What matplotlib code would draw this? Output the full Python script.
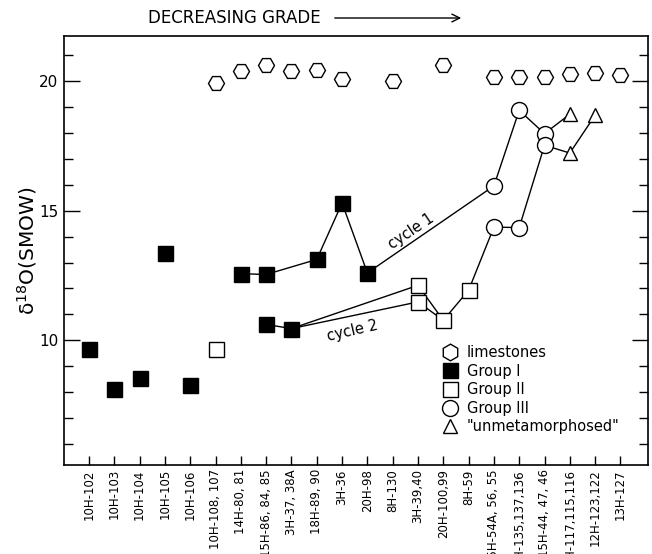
import matplotlib
matplotlib.use("Agg")
import matplotlib.pyplot as plt
from matplotlib.lines import Line2D
from matplotlib.patches import FancyArrowPatch

# sample order along the traverse, highest grade on the left
SAMPLES = [
    "10H-102", "10H-103", "10H-104", "10H-105", "10H-106", "10H-108, 107",
    "14H-80, 81", "15H-86, 84, 85", "3H-37, 38A", "18H-89, 90", "3H-36",
    "20H-98", "8H-130", "3H-39,40", "20H-100,99", "8H-59",
    "15H-54A, 56, 55", "11H-135,137,136", "15H-44, 47, 46",
    "11H-117,115,116", "12H-123,122", "13H-127",
]

# delta 18O (SMOW) per sample group
LIME_SAMPLES = ["10H-108, 107", "14H-80, 81", "15H-86, 84, 85", "3H-37, 38A",
                "18H-89, 90", "3H-36", "8H-130", "20H-100,99", "15H-54A, 56, 55",
                "11H-135,137,136", "15H-44, 47, 46", "11H-117,115,116",
                "12H-123,122", "13H-127"]
LIME_D18O = [19.92, 20.4, 20.62, 20.4, 20.45, 20.08, 20.03, 20.62, 20.15,
             20.18, 20.18, 20.3, 20.32, 20.25]

G1_SAMPLES = ["10H-102", "10H-103", "10H-104", "10H-105", "10H-106", "14H-80, 81",
              "15H-86, 84, 85", "15H-86, 84, 85", "3H-37, 38A", "18H-89, 90",
              "3H-36", "20H-98"]
G1_D18O = [9.68, 8.13, 8.56, 13.37, 8.29, 12.57, 12.54, 10.61, 10.45, 13.12, 15.3, 12.6]

G2_SAMPLES = ["10H-108, 107", "3H-39,40", "3H-39,40", "20H-100,99", "8H-59"]
G2_D18O = [9.68, 12.12, 11.48, 10.77, 11.93]

G3_SAMPLES = ["15H-54A, 56, 55", "15H-54A, 56, 55", "11H-135,137,136",
              "11H-135,137,136", "15H-44, 47, 46", "15H-44, 47, 46"]
G3_D18O = [15.96, 14.37, 18.88, 14.35, 17.98, 17.53]

UNMET_SAMPLES = ["11H-117,115,116", "11H-117,115,116", "12H-123,122"]
UNMET_D18O = [18.73, 17.23, 18.69]

# metamorphic cycles traced through the samples
CYCLE1_SAMPLES = ["14H-80, 81", "15H-86, 84, 85", "18H-89, 90", "3H-36", "20H-98",
                  "15H-54A, 56, 55", "11H-135,137,136", "15H-44, 47, 46",
                  "11H-117,115,116"]
CYCLE1_D18O = [12.57, 12.54, 13.12, 15.3, 12.6, 15.96, 18.88, 17.98, 18.73]

CYCLE2_SAMPLES = ["15H-86, 84, 85", "3H-37, 38A", "3H-39,40", "20H-100,99", "8H-59",
                  "15H-54A, 56, 55", "11H-135,137,136", "15H-44, 47, 46",
                  "11H-117,115,116", "12H-123,122"]
CYCLE2_D18O = [10.61, 10.45, 12.12, 10.77, 11.93, 14.37, 14.35, 17.53, 17.23, 18.69]

CYCLE2_BRANCH_SAMPLES = ["3H-37, 38A", "3H-39,40", "20H-100,99"]
CYCLE2_BRANCH_D18O = [10.45, 11.48, 10.77]


def pos(names):
    return [SAMPLES.index(n) for n in names]


fig = plt.figure(figsize=(6.52, 5.54), dpi=100)
ax = fig.add_axes([0.0989, 0.1606, 0.8942, 0.7744])

line_kw = dict(color="black", linewidth=1.0, zorder=1)
ax.plot(pos(CYCLE1_SAMPLES), CYCLE1_D18O, **line_kw)
ax.plot(pos(CYCLE2_SAMPLES), CYCLE2_D18O, **line_kw)
ax.plot(pos(CYCLE2_BRANCH_SAMPLES), CYCLE2_BRANCH_D18O, **line_kw)

mk = dict(linestyle="none", markeredgecolor="black", markeredgewidth=1.0, zorder=3)
ax.plot(pos(LIME_SAMPLES), LIME_D18O, marker="H", markersize=11.5,
        markerfacecolor="white", **mk)
ax.plot(pos(G1_SAMPLES), G1_D18O, marker="s", markersize=10.8,
        markerfacecolor="black", **mk)
ax.plot(pos(G2_SAMPLES), G2_D18O, marker="s", markersize=10.8,
        markerfacecolor="white", **mk)
ax.plot(pos(G3_SAMPLES), G3_D18O, marker="o", markersize=11.5,
        markerfacecolor="white", **mk)
ax.plot(pos(UNMET_SAMPLES), UNMET_D18O, marker="^", markersize=10,
        markerfacecolor="white", **mk)

ax.text(12.75, 14.19, "cycle 1", rotation=34, ha="center", va="center", fontsize=10.5)
ax.text(10.43, 10.37, "cycle 2", rotation=13, ha="center", va="center", fontsize=10.5)

ax.set_xlim(-0.97, 22.07)
ax.set_ylim(5.18, 21.75)
ax.set_xticks(range(len(SAMPLES)))
ax.set_xticklabels(SAMPLES, rotation=90, fontsize=8.5, va="top")
ax.set_yticks([10, 15, 20])
ax.set_yticks(range(6, 22), minor=True)
ax.tick_params(axis="x", direction="in", length=6.5, width=1.0, pad=3)
ax.tick_params(axis="y", which="major", direction="in", length=11.5, width=1.0,
               right=True, labelsize=11, pad=4.5)
ax.tick_params(axis="y", which="minor", direction="in", length=6.5, width=1.0, right=True)
for sp in ax.spines.values():
    sp.set_linewidth(1.2)

ax.set_ylabel(r"$\mathregular{\delta^{18}O(SMOW)}$", fontsize=14.5, labelpad=0)

handles = [
    Line2D([], [], marker="h", markersize=12, **mk, markerfacecolor="white"),
    Line2D([], [], marker="s", markersize=10.8, **mk, markerfacecolor="black"),
    Line2D([], [], marker="s", markersize=10.8, **mk, markerfacecolor="white"),
    Line2D([], [], marker="o", markersize=11.5, **mk, markerfacecolor="white"),
    Line2D([], [], marker="^", markersize=10, **mk, markerfacecolor="white"),
]
labels = ["limestones", "Group I", "Group II", "Group III", '"unmetamorphosed"']
ax.legend(handles, labels, loc="upper left", bbox_to_anchor=(0.649, 0.28),
          frameon=False, fontsize=10.5, handlelength=1.0, handletextpad=0.65,
          labelspacing=0.25, borderpad=0, borderaxespad=0)

fig.text(148 / 652, 1 - 18 / 554, "DECREASING GRADE", ha="left", va="center", fontsize=12)
fig.add_artist(FancyArrowPatch(
    (332 / 652, 1 - 18 / 554), (464 / 652, 1 - 18 / 554),
    transform=fig.transFigure, arrowstyle="->", mutation_scale=14, linewidth=1.0,
    color="black"))

fig.savefig("out.png", dpi=100)
